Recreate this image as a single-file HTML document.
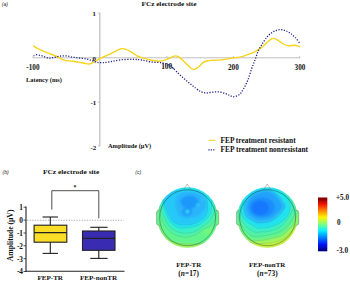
<!DOCTYPE html>
<html>
<head>
<meta charset="utf-8">
<title>FCz electrode site</title>
<style>
html,body{margin:0;padding:0;background:#fff;}
body{width:350px;height:281px;overflow:hidden;font-family:"Liberation Serif",serif;}
svg{display:block;}
text{font-family:"Liberation Serif",serif;font-weight:bold;fill:#111;}
.s{font-family:"Liberation Sans",sans-serif;font-weight:normal;font-style:italic;fill:#222;}
</style>
</head>
<body>
<svg width="350" height="281" viewBox="0 0 350 281">
<defs>
  <filter id="blur" x="-20%" y="-20%" width="140%" height="140%"><feGaussianBlur stdDeviation="1.1"/></filter>
  <filter id="soft" x="-5%" y="-5%" width="110%" height="110%"><feGaussianBlur stdDeviation="0.35"/></filter>
  <clipPath id="h1"><circle cx="187.5" cy="217.5" r="30.6"/></clipPath>
  <clipPath id="h2"><circle cx="267.5" cy="217.5" r="30.6"/></clipPath>
  <filter id="feather" x="-10%" y="-10%" width="120%" height="120%"><feGaussianBlur stdDeviation="0.7"/></filter>
  <mask id="m1" maskUnits="userSpaceOnUse" x="147" y="177" width="81" height="81"><circle cx="187.5" cy="217.5" r="30.3" fill="#fff" filter="url(#feather)"/></mask>
  <mask id="m2" maskUnits="userSpaceOnUse" x="227" y="177" width="81" height="81"><circle cx="267.5" cy="217.5" r="30.3" fill="#fff" filter="url(#feather)"/></mask>
  <linearGradient id="cb" x1="0" y1="0" x2="0" y2="1">
    <stop offset="0" stop-color="#800000"/>
    <stop offset="0.03" stop-color="#8c0000"/>
    <stop offset="0.125" stop-color="#f41400"/>
    <stop offset="0.25" stop-color="#ff8800"/>
    <stop offset="0.365" stop-color="#fff200"/>
    <stop offset="0.49" stop-color="#84ff7c"/>
    <stop offset="0.615" stop-color="#08f0ff"/>
    <stop offset="0.745" stop-color="#0080ff"/>
    <stop offset="0.875" stop-color="#0010f8"/>
    <stop offset="0.97" stop-color="#00008c"/>
    <stop offset="1" stop-color="#000080"/>
  </linearGradient>
</defs>

<!-- ============ (a) ERP waveform ============ -->
<g id="panelA">
  <text class="s" x="1.7" y="5.6" font-size="5.1">(a)</text>
  <text x="141.5" y="5.9" font-size="6.8" textLength="54.9" lengthAdjust="spacingAndGlyphs">FCz electrode site</text>

  <!-- axes -->
  <line x1="32.8" y1="57.8" x2="300" y2="57.8" stroke="#b8b8b8" stroke-width="0.9"/>
  <line x1="99.8" y1="12.8" x2="99.8" y2="146.3" stroke="#c2c2c2" stroke-width="1.3"/>
  <g stroke="#b8b8b8" stroke-width="0.8">
    <line x1="33.1" y1="56" x2="33.1" y2="58"/>
    <line x1="166.8" y1="56" x2="166.8" y2="58"/>
    <line x1="233.4" y1="56" x2="233.4" y2="58"/>
    <line x1="299.7" y1="56" x2="299.7" y2="58"/>
    <line x1="98" y1="13.1" x2="100" y2="13.1"/>
    <line x1="98" y1="102.3" x2="100" y2="102.3"/>
    <line x1="98" y1="145.9" x2="100" y2="145.9"/>
  </g>

  <!-- tick labels -->
  <g font-size="7.2">
    <text x="32.9" y="69.5" font-size="7.2" text-anchor="middle">-100</text>
    <text x="167.6" y="69.2" font-size="7.4" text-anchor="middle">100.</text>
    <text x="233.4" y="69.7" text-anchor="middle">200</text>
    <text x="300" y="69.7" text-anchor="middle">300</text>
    <text x="95.8" y="15.8" font-size="6.8" text-anchor="end">1</text>
    <text x="96" y="60.8" font-size="6.8" text-anchor="end">0</text>
    <text x="96.2" y="105" font-size="6.9" text-anchor="end">-1</text>
    <text x="96.2" y="149.7" font-size="6.9" text-anchor="end">-2</text>
  </g>
  <text x="26" y="82.3" font-size="6.7" textLength="36" lengthAdjust="spacingAndGlyphs">Latency (ms)</text>
  <text x="108" y="148.3" font-size="6.4">Amplitude  (μV)</text>

  <!-- yellow: treatment resistant -->
  <path id="yl" fill="none" stroke="#f7d41a" stroke-width="1.4" stroke-linejoin="round" stroke-linecap="round"
    d="M33.5,46.0 C34.4,46.5 37.0,48.2 39.0,49.2 C41.0,50.2 43.5,51.3 45.7,52.2 C47.9,53.1 49.9,53.6 52.0,54.5 C54.1,55.4 56.9,56.6 58.6,57.4 C60.3,58.2 60.8,58.8 62.0,59.3 C63.2,59.8 64.3,60.3 66.1,60.6 C67.9,60.9 70.7,60.9 73.0,61.2 C75.3,61.5 77.9,62.0 79.9,62.4 C81.9,62.8 83.4,63.2 85.0,63.5 C86.6,63.8 88.0,64.2 89.5,64.0 C91.0,63.8 92.2,63.0 93.7,62.2 C95.2,61.4 96.8,60.2 98.3,59.4 C99.8,58.5 101.2,57.9 102.9,57.1 C104.6,56.3 106.7,55.6 108.6,54.7 C110.5,53.8 112.6,52.7 114.3,51.9 C116.0,51.1 117.2,50.2 118.5,49.7 C119.8,49.2 120.8,48.7 122.0,48.6 C123.2,48.5 124.0,48.7 125.5,49.2 C127.0,49.8 129.0,50.8 131.0,51.9 C133.0,53.0 135.5,55.1 137.4,56.1 C139.3,57.1 140.2,57.1 142.6,57.8 C145.0,58.5 148.8,59.6 151.6,60.2 C154.4,60.8 157.0,61.3 159.3,61.3 C161.7,61.2 163.6,60.6 165.7,59.9 C167.8,59.2 170.5,57.6 172.1,56.9 C173.7,56.2 174.2,55.9 175.3,55.9 C176.4,55.9 177.2,55.9 178.5,56.6 C179.8,57.3 181.4,59.0 182.8,60.3 C184.2,61.6 185.7,63.2 187.1,64.6 C188.5,66.0 190.2,67.7 191.4,68.5 C192.6,69.3 193.2,69.7 194.4,69.4 C195.6,69.1 197.4,67.8 198.8,66.7 C200.2,65.6 201.7,63.6 203.1,62.6 C204.5,61.6 205.8,61.2 207.4,60.8 C209.0,60.4 210.4,60.4 212.7,60.3 C215.0,60.1 218.1,60.2 221.2,59.9 C224.2,59.6 227.8,58.8 231.0,58.3 C234.2,57.8 237.5,57.6 240.5,56.9 C243.5,56.2 246.3,55.1 249.1,54.1 C251.9,53.1 254.8,51.9 257.1,50.6 C259.4,49.3 261.0,47.9 262.9,46.3 C264.8,44.7 266.9,42.3 268.6,41.0 C270.3,39.7 271.6,38.5 273.1,38.4 C274.6,38.2 276.0,39.2 277.7,40.1 C279.4,41.0 281.5,43.0 283.4,44.0 C285.3,45.0 287.2,45.6 289.1,45.8 C291.0,46.0 293.1,45.1 294.9,45.2 C296.7,45.4 299.1,46.5 299.9,46.7"/>

  <!-- blue dotted: nonresistant -->
  <path id="bl" fill="none" stroke="#21218a" stroke-width="1.3" stroke-dasharray="1.2 1.53"
    d="M33.6,55.7 C34.0,55.5 34.9,54.7 36.3,54.7 C37.7,54.7 40.0,55.3 42.1,55.9 C44.2,56.5 47.0,57.9 49.0,58.1 C51.0,58.4 52.4,57.7 54.1,57.4 C55.8,57.1 57.3,56.5 59.3,56.2 C61.3,56.0 63.8,55.7 66.1,55.9 C68.4,56.1 70.7,56.8 73.0,57.2 C75.3,57.6 77.7,57.8 80.0,58.1 C82.3,58.4 84.9,58.6 86.9,59.0 C88.9,59.4 90.3,60.1 92.0,60.6 C93.7,61.1 95.2,61.9 97.0,62.3 C98.8,62.6 100.5,62.8 102.7,62.7 C104.9,62.6 107.4,62.2 110.4,61.7 C113.4,61.2 116.8,60.2 120.7,59.8 C124.6,59.4 130.2,59.4 133.6,59.4 C137.0,59.4 138.3,59.6 141.3,60.0 C144.3,60.4 148.2,61.5 151.6,62.0 C155.0,62.5 158.9,62.2 161.9,62.8 C164.9,63.3 167.8,64.5 169.6,65.3 C171.3,66.1 171.3,66.5 172.4,67.5 C173.5,68.5 174.7,69.8 176.4,71.5 C178.1,73.2 180.7,75.5 182.8,77.4 C184.9,79.3 187.1,81.1 189.2,82.9 C191.3,84.7 193.6,86.6 195.6,88.1 C197.6,89.6 199.2,90.9 201.0,91.7 C202.8,92.5 204.4,92.9 206.3,93.0 C208.2,93.1 210.6,92.3 212.7,92.1 C214.8,91.9 217.0,91.7 219.1,91.9 C221.2,92.1 223.7,92.9 225.5,93.5 C227.3,94.1 228.7,95.0 230.0,95.6 C231.3,96.1 231.9,96.9 233.4,96.8 C234.9,96.7 237.4,96.1 239.1,94.8 C240.8,93.5 241.9,91.5 243.4,89.1 C244.9,86.7 246.5,83.5 247.8,80.2 C249.2,76.9 250.3,72.5 251.5,69.1 C252.7,65.7 253.9,63.0 255.0,60.0 C256.1,57.0 257.0,53.8 258.3,50.9 C259.6,48.0 261.4,45.3 262.9,42.9 C264.4,40.5 265.9,38.2 267.4,36.5 C268.9,34.8 270.5,33.6 272.0,32.6 C273.5,31.6 275.1,30.8 276.6,30.3 C278.1,29.8 279.6,29.5 281.1,29.6 C282.6,29.7 284.2,30.1 285.7,30.7 C287.2,31.3 288.8,32.2 290.3,33.3 C291.8,34.4 293.3,35.4 294.9,37.1 C296.5,38.8 299.1,42.4 299.9,43.5"/>

  <!-- legend -->
  <line x1="208.6" y1="140.3" x2="215.4" y2="140.3" stroke="#f7d41a" stroke-width="1.1"/>
  <line x1="208.4" y1="149.8" x2="214.6" y2="149.8" stroke="#23238e" stroke-width="1.3" stroke-dasharray="1.2 1.2"/>
  <text x="220.5" y="142.7" font-size="7.2" textLength="75.1" lengthAdjust="spacingAndGlyphs">FEP treatment resistant</text>
  <text x="220.5" y="152.4" font-size="7.2" textLength="87.5" lengthAdjust="spacingAndGlyphs">FEP treatment nonresistant</text>
</g>

<!-- ============ (b) boxplot ============ -->
<g id="panelB">
  <text class="s" x="2.6" y="173.9" font-size="5.1">(b)</text>
  <text x="42.9" y="173.6" font-size="6.8" textLength="56.5" lengthAdjust="spacingAndGlyphs">FCz electrode site</text>

  <!-- significance bracket -->
  <path d="M51.8,209.6 V190.7 H98.8 V218.3" fill="none" stroke="#222" stroke-width="0.8"/>
  <text x="75" y="189.2" font-size="5.6" text-anchor="middle">*</text>

  <!-- zero dotted -->
  <line x1="27" y1="220.3" x2="123.5" y2="220.3" stroke="#8a8a8a" stroke-width="0.7" stroke-dasharray="1.3 1.3"/>

  <!-- axes -->
  <line x1="26" y1="206.6" x2="26" y2="272" stroke="#222" stroke-width="1.1"/>
  <line x1="25.5" y1="271.3" x2="124.5" y2="271.3" stroke="#222" stroke-width="1.1"/>
  <g stroke="#222" stroke-width="0.8">
    <line x1="23.5" y1="207.2" x2="26" y2="207.2"/>
    <line x1="23.5" y1="220.1" x2="26" y2="220.1"/>
    <line x1="23.5" y1="233" x2="26" y2="233"/>
    <line x1="23.5" y1="245.8" x2="26" y2="245.8"/>
    <line x1="23.5" y1="258.7" x2="26" y2="258.7"/>
    <line x1="23.5" y1="271.5" x2="26" y2="271.5"/>
  </g>
  <g font-size="7.3" text-anchor="end">
    <text x="23" y="209.9">1</text>
    <text x="23" y="223">0</text>
    <text x="23" y="235.9">-1</text>
    <text x="23" y="248.7">-2</text>
    <text x="23" y="261.6">-3</text>
    <text x="23" y="274.3">-4</text>
  </g>
  <text transform="translate(12.9,235.4) rotate(-90)" font-size="7.65" text-anchor="middle">Amplitude (μV)</text>

  <!-- yellow box -->
  <g stroke="#222" stroke-width="1.12" fill="none">
    <line x1="50.3" y1="217" x2="50.3" y2="253.4"/>
    <line x1="42.6" y1="217" x2="58" y2="217"/>
    <line x1="42.6" y1="253.4" x2="58" y2="253.4"/>
    <rect x="34.1" y="225.2" width="32.7" height="17" fill="#f9dd27"/>
    <line x1="34.1" y1="232.6" x2="66.8" y2="232.6"/>
  </g>
  <!-- blue box -->
  <g stroke="#222" stroke-width="1.12" fill="none">
    <line x1="98.8" y1="227.3" x2="98.8" y2="258.4"/>
    <line x1="90.3" y1="227.3" x2="107.6" y2="227.3"/>
    <line x1="90.3" y1="258.4" x2="107.6" y2="258.4"/>
    <rect x="82.5" y="231" width="32.5" height="19.3" fill="#3a2cb2"/>
    <line x1="82.5" y1="238.4" x2="115" y2="238.4"/>
  </g>
  <text x="50.2" y="279.8" font-size="7.1" text-anchor="middle">FEP-TR</text>
  <text x="98.5" y="279.8" font-size="7.1" text-anchor="middle">FEP-nonTR</text>
</g>

<!-- ============ (c) topographic maps ============ -->
<g id="panelC">
  <text class="s" x="135.2" y="173.9" font-size="5.1">(c)</text>

  <!-- head 1 -->
  <g filter="url(#soft)">
    <path d="M159.9,209.9 Q156.3,209.9 156.5,213.0 V223.0 Q156.5,225.6 160.1,225.4 Z" fill="#58f2a0" filter="url(#soft)"/>
    <path d="M215.4,209.9 Q219.0,209.9 218.8,213.0 V223.0 Q218.8,225.6 215.2,225.4 Z" fill="#66f48e" filter="url(#soft)"/>
    <g mask="url(#m1)">
      <rect x="148" y="178" width="80" height="80" fill="#9cf45c"/>
      <g filter="url(#blur)">
        <path d="M150.0,218.0 C151.3,219.2 155.8,222.3 158.0,225.0 C160.2,227.7 160.8,231.3 163.0,234.0 C165.2,236.7 168.2,239.4 171.0,241.0 C173.8,242.6 177.2,243.1 180.0,243.6 C182.8,244.1 185.2,244.1 188.0,244.2 C190.8,244.3 194.2,244.2 197.0,244.0 C199.8,243.8 202.5,243.7 205.0,243.0 C207.5,242.3 209.5,241.5 212.0,240.0 C214.5,238.5 217.7,236.5 220.0,234.0 C222.3,231.5 225.0,226.5 226.0,225.0 L227.5,177.5 L147.5,177.5 Z" fill="#62f48c"/>
        <path d="M150.0,200.0 C151.5,200.8 157.3,202.7 159.0,205.0 C160.7,207.3 159.0,210.5 160.0,214.0 C161.0,217.5 163.0,222.8 165.0,226.0 C167.0,229.2 169.5,231.2 172.0,233.0 C174.5,234.8 177.3,235.8 180.0,236.5 C182.7,237.2 185.3,237.3 188.0,237.0 C190.7,236.7 193.5,235.8 196.0,234.5 C198.5,233.2 200.7,230.9 203.0,229.5 C205.3,228.1 208.0,227.8 210.0,226.0 C212.0,224.2 213.9,221.7 215.0,219.0 C216.1,216.3 216.0,213.2 216.5,210.0 C217.0,206.8 216.4,202.5 218.0,200.0 C219.6,197.5 224.7,195.8 226.0,195.0 L227.5,177.5 L147.5,177.5 Z" fill="#50f2a6"/>
        <path d="M150.0,195.0 C151.8,196.7 158.5,202.2 160.5,205.0 C162.5,207.8 161.2,209.7 162.0,212.0 C162.8,214.3 163.7,216.5 165.0,219.0 C166.3,221.5 167.8,224.8 170.0,227.0 C172.2,229.2 175.0,231.0 178.0,232.0 C181.0,233.0 185.0,233.2 188.0,233.0 C191.0,232.8 193.3,232.2 196.0,231.0 C198.7,229.8 201.7,227.2 204.0,225.5 C206.3,223.8 208.3,222.6 210.0,220.5 C211.7,218.4 213.2,215.6 214.0,213.0 C214.8,210.4 214.2,208.0 214.5,205.0 C214.8,202.0 214.1,197.5 216.0,195.0 C217.9,192.5 224.3,190.8 226.0,190.0 L227.5,177.5 L147.5,177.5 Z" fill="#38f0c8"/>
        <path d="M150.0,190.0 C152.0,191.7 159.9,197.5 162.0,200.0 C164.1,202.5 162.3,203.2 162.8,205.0 C163.3,206.8 164.1,208.8 165.0,211.0 C165.9,213.2 166.7,215.8 168.0,218.0 C169.3,220.2 171.0,222.8 173.0,224.5 C175.0,226.2 177.5,227.5 180.0,228.0 C182.5,228.5 185.3,227.8 188.0,227.5 C190.7,227.2 193.5,226.9 196.0,226.0 C198.5,225.1 200.8,223.8 203.0,222.0 C205.2,220.2 208.1,217.5 209.5,215.0 C210.9,212.5 211.3,209.5 211.6,207.0 C211.9,204.5 211.3,202.5 211.5,200.0 C211.7,197.5 210.6,194.5 213.0,192.0 C215.4,189.5 223.8,186.2 226.0,185.0 L227.5,177.5 L147.5,177.5 Z" fill="#22e2f0"/>
        <path d="M189.7,190.3 C192.5,190.5 195.7,190.7 198.0,191.5 C200.3,192.3 202.2,193.5 203.7,195.0 C205.2,196.5 206.4,198.7 207.0,200.7 C207.6,202.7 207.5,205.1 207.5,207.0 C207.5,208.9 207.6,210.2 207.0,212.0 C206.4,213.8 205.4,216.1 203.7,217.8 C202.0,219.5 199.1,221.2 196.8,222.3 C194.5,223.4 191.8,224.1 190.0,224.5 C188.2,224.9 187.6,224.8 186.0,224.8 C184.4,224.8 182.3,225.0 180.2,224.5 C178.1,224.0 175.3,223.2 173.4,221.6 C171.5,220.0 170.1,217.3 168.8,214.8 C167.5,212.3 166.3,209.3 165.4,206.8 C164.5,204.3 163.5,202.0 163.6,200.0 C163.7,198.0 164.3,196.3 166.0,195.0 C167.7,193.7 171.0,192.7 173.5,192.0 C176.0,191.3 178.3,190.9 181.0,190.6 C183.7,190.3 186.9,190.2 189.7,190.3 Z" fill="#28c8f8"/>
        <ellipse cx="208.5" cy="231.5" rx="5.5" ry="3.5" fill="#70f880"/>
        <path d="M189.0,191.8 C191.8,191.9 196.3,192.4 199.0,193.5 C201.7,194.6 203.8,196.5 205.0,198.5 C206.2,200.5 206.3,203.3 206.0,205.5 C205.7,207.7 204.7,209.7 203.0,211.5 C201.3,213.3 198.5,215.4 196.0,216.5 C193.5,217.6 190.5,218.2 188.0,218.3 C185.5,218.4 182.8,217.9 181.0,216.8 C179.2,215.7 177.9,213.6 177.0,211.5 C176.1,209.4 175.5,206.4 175.5,204.0 C175.5,201.6 175.9,198.8 177.0,197.0 C178.1,195.2 180.0,193.9 182.0,193.0 C184.0,192.1 186.2,191.7 189.0,191.8 Z" fill="#2ab4fa"/>
        <ellipse cx="189.5" cy="202" rx="9" ry="6.5" fill="#1c98fa"/>
        <ellipse cx="187.2" cy="211.6" rx="5" ry="4.2" fill="#1c98fc"/>
        <circle cx="187.4" cy="211.6" r="1.9" fill="#3ce4f2"/>
        <circle cx="197.8" cy="204.7" r="1.5" fill="#36d4f4"/>
        <circle cx="202.4" cy="198.9" r="1.2" fill="#34ccf6"/>
      </g>
      <g fill="none" stroke="#20404a" stroke-width="0.3" opacity="0.4">
        <path d="M150.0,218.0 C151.3,219.2 155.8,222.3 158.0,225.0 C160.2,227.7 160.8,231.3 163.0,234.0 C165.2,236.7 168.2,239.4 171.0,241.0 C173.8,242.6 177.2,243.1 180.0,243.6 C182.8,244.1 185.2,244.1 188.0,244.2 C190.8,244.3 194.2,244.2 197.0,244.0 C199.8,243.8 202.5,243.7 205.0,243.0 C207.5,242.3 209.5,241.5 212.0,240.0 C214.5,238.5 217.7,236.5 220.0,234.0 C222.3,231.5 225.0,226.5 226.0,225.0"/>
        <path d="M150.0,200.0 C151.5,200.8 157.3,202.7 159.0,205.0 C160.7,207.3 159.0,210.5 160.0,214.0 C161.0,217.5 163.0,222.8 165.0,226.0 C167.0,229.2 169.5,231.2 172.0,233.0 C174.5,234.8 177.3,235.8 180.0,236.5 C182.7,237.2 185.3,237.3 188.0,237.0 C190.7,236.7 193.5,235.8 196.0,234.5 C198.5,233.2 200.7,230.9 203.0,229.5 C205.3,228.1 208.0,227.8 210.0,226.0 C212.0,224.2 213.9,221.7 215.0,219.0 C216.1,216.3 216.0,213.2 216.5,210.0 C217.0,206.8 216.4,202.5 218.0,200.0 C219.6,197.5 224.7,195.8 226.0,195.0"/>
        <path d="M150.0,195.0 C151.8,196.7 158.5,202.2 160.5,205.0 C162.5,207.8 161.2,209.7 162.0,212.0 C162.8,214.3 163.7,216.5 165.0,219.0 C166.3,221.5 167.8,224.8 170.0,227.0 C172.2,229.2 175.0,231.0 178.0,232.0 C181.0,233.0 185.0,233.2 188.0,233.0 C191.0,232.8 193.3,232.2 196.0,231.0 C198.7,229.8 201.7,227.2 204.0,225.5 C206.3,223.8 208.3,222.6 210.0,220.5 C211.7,218.4 213.2,215.6 214.0,213.0 C214.8,210.4 214.2,208.0 214.5,205.0 C214.8,202.0 214.1,197.5 216.0,195.0 C217.9,192.5 224.3,190.8 226.0,190.0"/>
        <path d="M150.0,190.0 C152.0,191.7 159.9,197.5 162.0,200.0 C164.1,202.5 162.3,203.2 162.8,205.0 C163.3,206.8 164.1,208.8 165.0,211.0 C165.9,213.2 166.7,215.8 168.0,218.0 C169.3,220.2 171.0,222.8 173.0,224.5 C175.0,226.2 177.5,227.5 180.0,228.0 C182.5,228.5 185.3,227.8 188.0,227.5 C190.7,227.2 193.5,226.9 196.0,226.0 C198.5,225.1 200.8,223.8 203.0,222.0 C205.2,220.2 208.1,217.5 209.5,215.0 C210.9,212.5 211.3,209.5 211.6,207.0 C211.9,204.5 211.3,202.5 211.5,200.0 C211.7,197.5 210.6,194.5 213.0,192.0 C215.4,189.5 223.8,186.2 226.0,185.0"/>
        <path d="M189.7,190.3 C192.5,190.5 195.7,190.7 198.0,191.5 C200.3,192.3 202.2,193.5 203.7,195.0 C205.2,196.5 206.4,198.7 207.0,200.7 C207.6,202.7 207.5,205.1 207.5,207.0 C207.5,208.9 207.6,210.2 207.0,212.0 C206.4,213.8 205.4,216.1 203.7,217.8 C202.0,219.5 199.1,221.2 196.8,222.3 C194.5,223.4 191.8,224.1 190.0,224.5 C188.2,224.9 187.6,224.8 186.0,224.8 C184.4,224.8 182.3,225.0 180.2,224.5 C178.1,224.0 175.3,223.2 173.4,221.6 C171.5,220.0 170.1,217.3 168.8,214.8 C167.5,212.3 166.3,209.3 165.4,206.8 C164.5,204.3 163.5,202.0 163.6,200.0 C163.7,198.0 164.3,196.3 166.0,195.0 C167.7,193.7 171.0,192.7 173.5,192.0 C176.0,191.3 178.3,190.9 181.0,190.6 C183.7,190.3 186.9,190.2 189.7,190.3 Z"/>
      </g>
    </g>
    <circle cx="187.6" cy="217.7" r="28" fill="none" stroke="#0c2018" stroke-width="0.6" opacity="0.6"/>
    <path d="M183.5,189.7 L187.1,184.0 L191.1,189.7" fill="none" stroke="#84745c" stroke-width="0.45"/>
    <path d="M159.9,209.9 Q156.3,209.9 156.5,213.0 V223.0 Q156.5,225.6 160.1,225.4" fill="none" stroke="#84745c" stroke-width="0.45"/>
    <path d="M215.4,209.9 Q219.0,209.9 218.8,213.0 V223.0 Q218.8,225.6 215.2,225.4" fill="none" stroke="#84745c" stroke-width="0.45"/>
  </g>

  <!-- head 2 -->
  <g filter="url(#soft)">
    <path d="M239.9,209.9 Q236.3,209.9 236.5,213.0 V223.0 Q236.5,225.6 240.1,225.4 Z" fill="#58f2a0" filter="url(#soft)"/>
    <path d="M295.4,209.9 Q299.0,209.9 298.8,213.0 V223.0 Q298.8,225.6 295.2,225.4 Z" fill="#66f48e" filter="url(#soft)"/>
    <g mask="url(#m2)">
      <rect x="228" y="178" width="80" height="80" fill="#c6f244"/>
      <g filter="url(#blur)">
        <path d="M230.0,225.0 C231.7,226.8 236.7,233.2 240.0,236.0 C243.3,238.8 246.7,240.8 249.7,242.0 C252.7,243.2 254.9,243.3 258.0,243.5 C261.1,243.7 264.8,243.5 268.0,243.2 C271.2,242.9 274.2,242.4 277.0,241.5 C279.8,240.6 282.5,239.8 285.0,238.0 C287.5,236.2 288.5,234.8 292.0,231.0 C295.5,227.2 303.7,217.7 306.0,215.0 L307.5,177.5 L227.5,177.5 Z" fill="#9cf45c"/>
        <path d="M230.0,210.0 C231.3,212.5 236.1,221.4 238.0,225.0 C239.9,228.6 239.8,229.6 241.3,231.7 C242.9,233.8 245.3,236.3 247.3,237.8 C249.3,239.3 250.3,240.5 253.4,240.8 C256.5,241.1 262.3,240.2 266.0,239.6 C269.7,239.0 273.3,237.8 275.7,237.2 C278.1,236.6 278.5,237.1 280.5,236.0 C282.5,234.9 285.6,232.6 287.8,230.5 C290.0,228.4 292.3,225.9 293.8,223.3 C295.3,220.7 295.0,218.9 297.0,215.0 C299.0,211.1 304.5,202.5 306.0,200.0 L307.5,177.5 L227.5,177.5 Z" fill="#62f48c"/>
        <path d="M230.0,195.0 C231.2,197.5 236.0,206.1 237.5,210.0 C239.0,213.9 238.0,215.6 238.8,218.4 C239.6,221.2 240.9,224.4 242.5,226.9 C244.1,229.4 246.5,231.9 248.5,233.5 C250.5,235.1 251.7,236.3 254.6,236.6 C257.5,236.9 262.3,236.0 266.0,235.4 C269.7,234.8 273.7,234.1 276.9,232.9 C280.1,231.7 283.0,230.1 285.4,228.1 C287.8,226.1 289.7,223.6 291.4,220.8 C293.1,218.0 295.1,214.4 295.6,211.4 C296.1,208.4 295.3,205.7 294.5,203.0 C293.7,200.3 292.4,197.5 291.0,195.0 C289.6,192.5 286.8,191.3 286.0,188.0 C285.2,184.7 286.0,177.2 286.0,175.0 L307.5,177.5 L227.5,177.5 Z" fill="#50f2a6"/>
        <path d="M230.0,185.0 C231.7,187.5 238.6,196.2 240.0,200.0 C241.4,203.8 238.5,205.3 238.5,208.0 C238.5,210.7 239.1,213.4 240.0,216.0 C240.9,218.6 242.1,221.1 243.7,223.3 C245.3,225.5 247.7,227.8 249.7,229.3 C251.7,230.8 253.8,231.9 255.8,232.3 C257.8,232.7 260.1,231.8 261.8,231.7 C263.5,231.6 263.7,232.1 266.0,231.7 C268.3,231.3 272.9,230.5 275.7,229.3 C278.5,228.1 280.7,226.7 283.0,224.5 C285.3,222.3 287.8,218.6 289.5,216.0 C291.2,213.4 292.6,211.3 293.0,209.0 C293.4,206.7 292.7,204.3 292.0,202.0 C291.3,199.7 290.3,197.2 289.0,195.0 C287.7,192.8 285.0,192.3 284.0,189.0 C283.0,185.7 283.2,177.3 283.0,175.0 L307.5,177.5 L227.5,177.5 Z" fill="#38f0c8"/>
        <path d="M232.0,180.0 C233.7,183.3 240.6,195.3 242.0,200.0 C243.4,204.7 240.4,205.3 240.5,208.0 C240.6,210.7 241.4,213.7 242.5,216.0 C243.6,218.3 245.5,220.4 247.3,222.0 C249.1,223.6 251.6,224.7 253.4,225.7 C255.2,226.7 255.9,227.8 258.2,228.1 C260.5,228.4 263.9,228.1 267.0,227.5 C270.1,226.9 274.0,225.9 277.0,224.5 C280.0,223.1 283.1,220.8 285.0,219.0 C286.9,217.2 287.6,216.1 288.5,214.0 C289.4,211.9 290.2,209.0 290.2,206.6 C290.2,204.2 289.4,201.4 288.4,199.3 C287.4,197.2 285.7,196.1 284.0,194.0 C282.3,191.9 279.2,190.2 278.0,187.0 C276.8,183.8 277.2,177.0 277.0,175.0 L307.5,177.5 L227.5,177.5 Z" fill="#22e2f0"/>
        <path d="M266.0,189.6 C268.6,189.8 271.1,190.8 273.3,192.0 C275.5,193.2 277.5,194.9 279.3,196.9 C281.1,198.9 283.2,202.4 284.1,204.1 C285.0,205.8 285.2,205.9 284.8,207.2 C284.4,208.5 282.8,210.5 281.7,212.0 C280.6,213.5 279.4,214.7 278.0,216.0 C276.6,217.3 275.0,218.6 273.3,219.6 C271.6,220.6 270.5,221.5 268.0,222.0 C265.5,222.5 260.8,223.0 258.2,222.7 C255.5,222.4 254.1,221.3 252.1,220.2 C250.1,219.1 247.4,218.0 246.1,216.0 C244.8,214.0 244.0,210.6 244.0,208.0 C244.0,205.4 244.7,202.8 246.0,200.5 C247.3,198.2 250.0,195.6 252.0,194.0 C254.0,192.4 255.7,191.7 258.0,191.0 C260.3,190.3 263.4,189.4 266.0,189.6 Z" fill="#2ab6fa"/>
        <path d="M266.0,191.5 C268.2,191.6 270.6,192.4 272.5,193.5 C274.4,194.6 276.1,196.2 277.5,198.0 C278.9,199.8 280.4,202.4 281.0,204.0 C281.6,205.6 281.7,206.2 281.3,207.5 C280.9,208.8 279.7,210.2 278.5,211.5 C277.3,212.8 275.8,214.3 274.0,215.5 C272.2,216.7 270.5,217.9 268.0,218.5 C265.5,219.1 261.4,219.5 259.0,219.3 C256.6,219.1 255.2,218.4 253.5,217.3 C251.8,216.2 249.9,214.6 248.8,213.0 C247.7,211.4 247.1,209.4 247.0,207.5 C246.9,205.6 247.5,203.4 248.5,201.5 C249.5,199.6 251.2,197.4 253.0,196.0 C254.8,194.6 256.8,193.6 259.0,192.8 C261.2,192.1 263.8,191.4 266.0,191.5 Z" fill="#22a2fa"/>
        <ellipse cx="262" cy="207.3" rx="12.5" ry="9.8" fill="#1a8cfc"/>
        <ellipse cx="260.3" cy="208" rx="8.5" ry="7.3" fill="#1478fc"/>
      </g>
      <g fill="none" stroke="#20404a" stroke-width="0.3" opacity="0.4">
        <path d="M230.0,225.0 C231.7,226.8 236.7,233.2 240.0,236.0 C243.3,238.8 246.7,240.8 249.7,242.0 C252.7,243.2 254.9,243.3 258.0,243.5 C261.1,243.7 264.8,243.5 268.0,243.2 C271.2,242.9 274.2,242.4 277.0,241.5 C279.8,240.6 282.5,239.8 285.0,238.0 C287.5,236.2 288.5,234.8 292.0,231.0 C295.5,227.2 303.7,217.7 306.0,215.0"/>
        <path d="M230.0,210.0 C231.3,212.5 236.1,221.4 238.0,225.0 C239.9,228.6 239.8,229.6 241.3,231.7 C242.9,233.8 245.3,236.3 247.3,237.8 C249.3,239.3 250.3,240.5 253.4,240.8 C256.5,241.1 262.3,240.2 266.0,239.6 C269.7,239.0 273.3,237.8 275.7,237.2 C278.1,236.6 278.5,237.1 280.5,236.0 C282.5,234.9 285.6,232.6 287.8,230.5 C290.0,228.4 292.3,225.9 293.8,223.3 C295.3,220.7 295.0,218.9 297.0,215.0 C299.0,211.1 304.5,202.5 306.0,200.0"/>
        <path d="M230.0,195.0 C231.2,197.5 236.0,206.1 237.5,210.0 C239.0,213.9 238.0,215.6 238.8,218.4 C239.6,221.2 240.9,224.4 242.5,226.9 C244.1,229.4 246.5,231.9 248.5,233.5 C250.5,235.1 251.7,236.3 254.6,236.6 C257.5,236.9 262.3,236.0 266.0,235.4 C269.7,234.8 273.7,234.1 276.9,232.9 C280.1,231.7 283.0,230.1 285.4,228.1 C287.8,226.1 289.7,223.6 291.4,220.8 C293.1,218.0 295.1,214.4 295.6,211.4 C296.1,208.4 295.3,205.7 294.5,203.0 C293.7,200.3 292.4,197.5 291.0,195.0 C289.6,192.5 286.8,191.3 286.0,188.0 C285.2,184.7 286.0,177.2 286.0,175.0"/>
        <path d="M230.0,185.0 C231.7,187.5 238.6,196.2 240.0,200.0 C241.4,203.8 238.5,205.3 238.5,208.0 C238.5,210.7 239.1,213.4 240.0,216.0 C240.9,218.6 242.1,221.1 243.7,223.3 C245.3,225.5 247.7,227.8 249.7,229.3 C251.7,230.8 253.8,231.9 255.8,232.3 C257.8,232.7 260.1,231.8 261.8,231.7 C263.5,231.6 263.7,232.1 266.0,231.7 C268.3,231.3 272.9,230.5 275.7,229.3 C278.5,228.1 280.7,226.7 283.0,224.5 C285.3,222.3 287.8,218.6 289.5,216.0 C291.2,213.4 292.6,211.3 293.0,209.0 C293.4,206.7 292.7,204.3 292.0,202.0 C291.3,199.7 290.3,197.2 289.0,195.0 C287.7,192.8 285.0,192.3 284.0,189.0 C283.0,185.7 283.2,177.3 283.0,175.0"/>
        <path d="M232.0,180.0 C233.7,183.3 240.6,195.3 242.0,200.0 C243.4,204.7 240.4,205.3 240.5,208.0 C240.6,210.7 241.4,213.7 242.5,216.0 C243.6,218.3 245.5,220.4 247.3,222.0 C249.1,223.6 251.6,224.7 253.4,225.7 C255.2,226.7 255.9,227.8 258.2,228.1 C260.5,228.4 263.9,228.1 267.0,227.5 C270.1,226.9 274.0,225.9 277.0,224.5 C280.0,223.1 283.1,220.8 285.0,219.0 C286.9,217.2 287.6,216.1 288.5,214.0 C289.4,211.9 290.2,209.0 290.2,206.6 C290.2,204.2 289.4,201.4 288.4,199.3 C287.4,197.2 285.7,196.1 284.0,194.0 C282.3,191.9 279.2,190.2 278.0,187.0 C276.8,183.8 277.2,177.0 277.0,175.0"/>
        <path d="M266.0,189.6 C268.6,189.8 271.1,190.8 273.3,192.0 C275.5,193.2 277.5,194.9 279.3,196.9 C281.1,198.9 283.2,202.4 284.1,204.1 C285.0,205.8 285.2,205.9 284.8,207.2 C284.4,208.5 282.8,210.5 281.7,212.0 C280.6,213.5 279.4,214.7 278.0,216.0 C276.6,217.3 275.0,218.6 273.3,219.6 C271.6,220.6 270.5,221.5 268.0,222.0 C265.5,222.5 260.8,223.0 258.2,222.7 C255.5,222.4 254.1,221.3 252.1,220.2 C250.1,219.1 247.4,218.0 246.1,216.0 C244.8,214.0 244.0,210.6 244.0,208.0 C244.0,205.4 244.7,202.8 246.0,200.5 C247.3,198.2 250.0,195.6 252.0,194.0 C254.0,192.4 255.7,191.7 258.0,191.0 C260.3,190.3 263.4,189.4 266.0,189.6 Z"/>
      </g>
    </g>
    <circle cx="267.6" cy="217.7" r="28" fill="none" stroke="#0c2018" stroke-width="0.6" opacity="0.6"/>
    <path d="M263.5,189.7 L267.1,184.0 L271.1,189.7" fill="none" stroke="#84745c" stroke-width="0.45"/>
    <path d="M239.9,209.9 Q236.3,209.9 236.5,213.0 V223.0 Q236.5,225.6 240.1,225.4" fill="none" stroke="#84745c" stroke-width="0.45"/>
    <path d="M295.4,209.9 Q299.0,209.9 298.8,213.0 V223.0 Q298.8,225.6 295.2,225.4" fill="none" stroke="#84745c" stroke-width="0.45"/>
  </g>

  <!-- colorbar -->
  <rect x="318" y="197.5" width="9.3" height="53.8" fill="url(#cb)" filter="url(#soft)"/>
  <g font-size="7.2">
    <text x="336" y="199.9">+5.0</text>
    <text x="337.1" y="225.2">0</text>
    <text x="336.6" y="252.8">-3.0</text>
  </g>

  <text x="188.7" y="267.1" font-size="6.95" text-anchor="middle">FEP-TR</text>
  <text x="188.7" y="276.3" font-size="7.4" text-anchor="middle">(<tspan font-style="italic">n</tspan>=17)</text>
  <text x="267.2" y="267.1" font-size="6.95" text-anchor="middle">FEP-nonTR</text>
  <text x="267.4" y="276.3" font-size="7.4" text-anchor="middle">(<tspan font-style="italic">n</tspan>=73)</text>
</g>
</svg>
</body>
</html>
